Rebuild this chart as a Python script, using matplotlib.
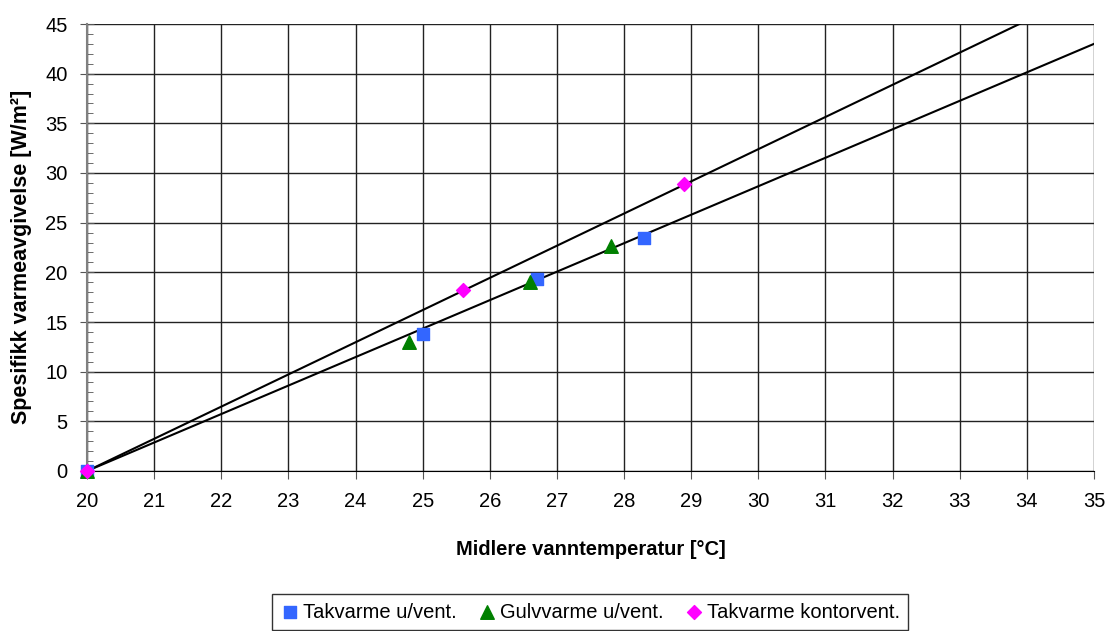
import numpy as np
import matplotlib.pyplot as plt
from matplotlib.ticker import MultipleLocator

plt.rcParams['font.family'] = ['Liberation Sans', 'DejaVu Sans']

# measured points
tak_x = [20, 25.0, 26.7, 28.3]
tak_y = [0, 13.8, 19.3, 23.5]
gulv_x = [20, 24.8, 26.6, 27.8]
gulv_y = [0, 13.0, 19.0, 22.7]
kontor_x = [20, 25.6, 28.9]
kontor_y = [0, 18.2, 28.9]

# trend lines (end points)
fit1_x = [20, 35]
fit1_y = [0, 48.6]
fit2_x = [20, 35]
fit2_y = [0, 43.0]

fig = plt.figure(figsize=(11.07, 6.31), dpi=100)
ax = fig.add_axes([87 / 1107, 1 - 471 / 631, (1094 - 87) / 1107, (471 - 24) / 631])

ax.plot(fit1_x, fit1_y, color='black', lw=1.5, zorder=3)
ax.plot(fit2_x, fit2_y, color='black', lw=1.5, zorder=3)

ax.scatter(tak_x, tak_y, marker='s', s=85, color='#3366FF', zorder=4, clip_on=False, label='Takvarme u/vent.')
ax.scatter(gulv_x, gulv_y, marker='^', s=95, color='#008000', zorder=4, clip_on=False, label='Gulvvarme u/vent.')
ax.scatter(kontor_x, kontor_y, marker='D', s=50, color='#FF00FF', zorder=5, clip_on=False, label='Takvarme kontorvent.')

ax.set_xlim(20, 35)
ax.set_ylim(0, 45)
ax.xaxis.set_major_locator(MultipleLocator(1))
ax.yaxis.set_major_locator(MultipleLocator(5))
ax.yaxis.set_minor_locator(MultipleLocator(1))
ax.grid(True, which='major', color='#222222', lw=1)
ax.set_axisbelow(True)

for s in ['top', 'right']:
    ax.spines[s].set_visible(False)
ax.spines['left'].set_color('#808080')
ax.spines['left'].set_linewidth(1.5)
ax.spines['bottom'].set_color('black')

ax.tick_params(axis='both', labelsize=14.5, color='#555555')
ax.tick_params(axis='x', length=6, pad=9)
ax.tick_params(axis='y', which='major', direction='inout', length=10, pad=9)
ax.tick_params(axis='y', which='minor', direction='in', length=4, color='#555555')

ax.set_xlabel('Midlere vanntemperatur [°C]', fontsize=14.5, fontweight='bold', labelpad=21)
ax.set_ylabel('Spesifikk varmeavgivelse [W/m²]', fontsize=15.5, fontweight='bold')
ax.yaxis.set_label_coords(-0.055, 0.48)

leg = fig.legend(loc='center', bbox_to_anchor=(590 / 1107, 1 - 612 / 631), ncol=3,
                 fontsize=14.5, frameon=True, fancybox=False, edgecolor='black',
                 handletextpad=0.15, columnspacing=1.0, borderpad=0.4, handlelength=1.0,
                 borderaxespad=0)
leg.get_frame().set_linewidth(1)

fig.savefig('out.png', dpi=100)
